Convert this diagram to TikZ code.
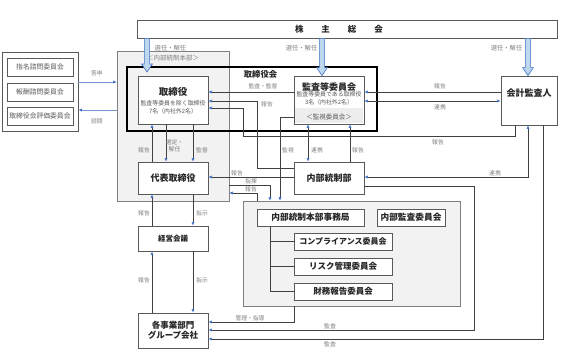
\documentclass[tikz,border=0pt]{standalone}
\usepackage{fontspec}
\setmainfont{Noto Sans CJK JP}
\usetikzlibrary{arrows.meta,calc}
\definecolor{ablue}{HTML}{4472C4}
\definecolor{lblue}{HTML}{BDD7EE}
\definecolor{lnc}{HTML}{404040}
\definecolor{lbl}{HTML}{7F7F7F}
\definecolor{bdr}{HTML}{595959}
\definecolor{txt}{HTML}{262626}
\definecolor{rg}{HTML}{F2F2F2}
\newcommand\blockarr[2]{%
  \filldraw[barrow] let \p1=(#1), \p2=(#2) in
    (\x1-2.6pt,\y1) -- (\x1-2.6pt,\y2+8pt) -- (\x1-5.4pt,\y2+8pt) -- (\x1,\y2)
    -- (\x1+5.4pt,\y2+8pt) -- (\x1+2.6pt,\y2+8pt) -- (\x1+2.6pt,\y1) -- cycle;}
\begin{document}
\begin{tikzpicture}[x=1pt,y=-1pt,
  box/.style={draw=bdr,line width=0.8pt,fill=white,inner sep=0pt,text=txt,align=center},
  region/.style={draw=gray,line width=0.6pt,fill=rg,inner sep=0pt},
  lab/.style={font=\fontsize{5.8}{6.5}\selectfont,text=lbl,inner sep=0.5pt,align=center},
  head/.style={font=\bfseries\fontsize{9}{10}\selectfont,text=txt,inner sep=0pt},
  sub/.style={font=\fontsize{5.9}{8}\selectfont,text=bdr,inner sep=0pt,align=center},
  tip/.style={},
  conn/.style={draw=lnc,line width=0.6pt,-{Latex[length=3.5pt,width=3.2pt,color=ablue]}},
  conn2/.style={draw=lnc,line width=0.6pt,{Latex[length=3.5pt,width=3.2pt,color=ablue]}-{Latex[length=3.5pt,width=3.2pt,color=ablue]}},
  bline/.style={draw=ablue!75,line width=0.7pt,-{Latex[length=3.5pt,width=3.2pt,color=ablue]}},
  barrow/.style={draw=ablue,fill=lblue,line width=0.6pt},
  plain/.style={draw=lnc,line width=0.6pt},
]
\useasboundingbox (0,0) rectangle (566,357);

% regions
\node[region,minimum width=112pt,minimum height=150pt] (hq) at (173,126) {};
\node[lab,font=\fontsize{6.5}{7}\selectfont] (hqlab) at (173,58) {＜内部統制本部＞};
\node[region,minimum width=217pt,minimum height=105pt] (grp) at (351.5,253.5) {};
\node[draw=black,line width=1.6pt,minimum width=250pt,minimum height=64pt,inner sep=0pt] (bod) at (252,99) {};
\node[font=\bfseries\fontsize{8.3}{9}\selectfont,text=txt] (bodlab) at (260.5,74) {取締役会};

% shareholders
\node[box,minimum width=420pt,minimum height=18pt] (sh) at (347,29) {};
\node[font=\bfseries\fontsize{8.5}{9}\selectfont,text=txt] (shlab) at (339,29) {株\hspace{18pt}主\hspace{18pt}総\hspace{18pt}会};

% advisory committees
\node[box,minimum width=76pt,minimum height=79pt] (cmt) at (40,91.5) {};
\node[box,minimum width=66pt,minimum height=18pt,font=\fontsize{6.8}{7}\selectfont,text=bdr] (n1) at (40,67) {指名諮問委員会};
\node[box,minimum width=66pt,minimum height=18pt,font=\fontsize{6.8}{7}\selectfont,text=bdr] (n2) at (40,92) {報酬諮問委員会};
\node[box,minimum width=66pt,minimum height=18pt,font=\fontsize{6.8}{7}\selectfont,text=bdr] (n3) at (40,116) {取締役会評価委員会};

% board members
\node[box,minimum width=70pt,minimum height=48pt] (dir) at (173,100) {};
\node[head,font=\bfseries\fontsize{9.5}{10}\selectfont] (dirt) at (173,91.5) {取締役};
\node[sub] (dirs) at (173,107.5) {監査等委員を除く取締役\\7名（内社外2名）};

\node[box,minimum width=70pt,minimum height=48pt] (ac) at (329,100) {};
\fill[gray!14] (294.6,108.3) rectangle (363.4,123.4);
\node[head] (act) at (329,86.7) {監査等委員会};
\node[sub] (acs) at (329,98.5) {監査等委員である取締役\\3名（内社外2名）};
\node[sub,font=\fontsize{6.5}{7}\selectfont] (acb) at (329,117) {＜監視委員会＞};

\node[box,minimum width=56pt,minimum height=49pt] (ca) at (529,100.5) {};
\node[head] (cat) at (529,93) {会計監査人};

\node[box,minimum width=70pt,minimum height=32pt,font=\bfseries\fontsize{9}{10}\selectfont] (rep) at (173,178) {代表取締役};
\node[box,minimum width=70pt,minimum height=32pt,font=\bfseries\fontsize{9}{10}\selectfont] (ic) at (329,178) {内部統制部};
\node[box,minimum width=70pt,minimum height=25pt,font=\bfseries\fontsize{7.5}{9}\selectfont] (mm) at (173,238.5) {経営会議};
\node[box,minimum width=70pt,minimum height=35pt,font=\bfseries\fontsize{8.5}{10}\selectfont] (bu) at (173,330.5) {各事業部門\\グループ会社};

% internal control office group
\node[box,minimum width=107pt,minimum height=17pt,font=\bfseries\fontsize{8.7}{9}\selectfont] (sec) at (310.5,217.5) {内部統制本部事務局};
\node[box,minimum width=68pt,minimum height=17pt,font=\bfseries\fontsize{8.7}{9}\selectfont] (iac) at (411,217.5) {内部監査委員会};
\node[box,minimum width=98pt,minimum height=17pt,font=\bfseries\fontsize{8}{9}\selectfont] (cc) at (343,241.5) {コンプライアンス委員会};
\node[box,minimum width=98pt,minimum height=17pt,font=\bfseries\fontsize{8.5}{9}\selectfont] (rc) at (343,266.5) {リスク管理委員会};
\node[box,minimum width=98pt,minimum height=17pt,font=\bfseries\fontsize{8.5}{9}\selectfont] (fc) at (343,291.5) {財務報告委員会};
\draw[plain] (sec.south -| 270,0) |- (fc.west);
\draw[plain] (cc.west) -- (cc.west -| 270,0);
\draw[plain] (rc.west) -- (rc.west -| 270,0);

% block arrows from shareholders
\blockarr{sh.south -| 147,0}{0,72 -| 147,0}
\blockarr{sh.south -| 322,0}{ac.north -| 322,0}
\blockarr{sh.south -| 528,0}{ca.north -| 528,0}
\node[lab,anchor=west,font=\fontsize{6.3}{7}\selectfont] (l1) at (154,48) {選任・解任};
\node[lab,anchor=east,font=\fontsize{6.3}{7}\selectfont] (l2) at (318,48) {選任・解任};
\node[lab,anchor=east,font=\fontsize{6.3}{7}\selectfont] (l3) at (523,48) {選任・解任};

% advisory arrows
\draw[bline] (cmt.east |- 0,82) -- (hq.west |- 0,82);
\draw[bline] (hq.west |- 0,110) -- (cmt.east |- 0,110);
\node[lab] (l4) at (97,73) {答申};
\node[lab] (l5) at (97,121) {諮問};

% connectors around the board
\draw[conn] (ac.west |- 0,92) -- (dir.east |- 0,92);
\node[lab] (l6) at (263,86) {監査・監督};
\draw[conn] (ic.west |- 0,168) -| (257,101) -- (dir.east |- 0,101);
\node[lab] (l7) at (267,104) {報告};
\draw[conn] (ca.south -| 515,0) -- (515,136) -| (243,108) -- (dir.east |- 0,108);
\node[lab] (l8) at (438,142) {報告};
\draw[conn] (ac.west |- 0,117) -| (grp.north -| 280,0);
\node[lab] (l9) at (288,150) {監視};
\draw[conn2] (ac.south -| 308,0) -- (ic.north -| 308,0);
\node[lab] (l10) at (317,150) {連携};
\draw[conn] (ic.north -| 350,0) -- (ac.south -| 350,0);
\node[lab] (l11) at (358,150) {報告};
\draw[conn] (ca.west |- 0,92) -- (ac.east |- 0,92);
\node[lab] (l12) at (440,86) {報告};
\draw[conn2] (ca.west |- 0,101) -- (ac.east |- 0,101);
\node[lab] (l13) at (440,107) {連携};
\draw[conn2] (ic.east |- 0,177) -| (ca.south -| 528,0);
\node[lab] (l14) at (495,173) {連携};

% representative director connectors
\draw[conn] (ic.west |- 0,177) -- (rep.east |- 0,177);
\node[lab] (l15) at (237,173) {報告};
\draw[conn] (hq.east |- 0,185) -| (grp.north -| 270,0);
\node[lab] (l16) at (251,181.5) {指揮};
\draw[conn] (grp.north -| 257,0) |- (hq.east |- 0,193);
\node[lab] (l17) at (251,189.5) {報告};

\draw[conn] (rep.north -| 152,0) -- (dir.south -| 152,0);
\node[lab,anchor=east] (l18) at (150.5,150) {報告};
\draw[conn] (dir.south -| 166,0) -- (rep.north -| 166,0);
\node[lab] (l19) at (174.5,146) {選定・\\解任};
\draw[conn] (dir.south -| 193,0) -- (rep.north -| 193,0);
\node[lab,anchor=west] (l20) at (195.5,150) {監督};

\draw[conn] (rep.south -| 193,0) -- (mm.north -| 193,0);
\node[lab,anchor=west] (l21) at (195.5,213) {指示};
\draw[conn] (mm.north -| 152,0) -- (rep.south -| 152,0);
\node[lab,anchor=east] (l22) at (150.5,213) {報告};
\draw[conn] (mm.south -| 193,0) -- (bu.north -| 193,0);
\node[lab,anchor=west] (l23) at (195.5,280) {指示};
\draw[conn] (bu.north -| 152,0) -- (mm.south -| 152,0);
\node[lab,anchor=east] (l24) at (150.5,280) {報告};

% to business units
\draw[conn] (grp.south -| 294,0) |- (bu.east |- 0,322);
\node[lab] (l25) at (250,318) {管理・指導};
\draw[conn] (ic.east |- 0,186) -| (474,330) -- (bu.east |- 0,330);
\node[lab] (l26) at (330,326) {監査};
\draw[conn] (ca.south -| 543,0) |- (bu.east |- 0,339);
\node[lab] (l27) at (330,344) {監査};
\end{tikzpicture}
\end{document}
